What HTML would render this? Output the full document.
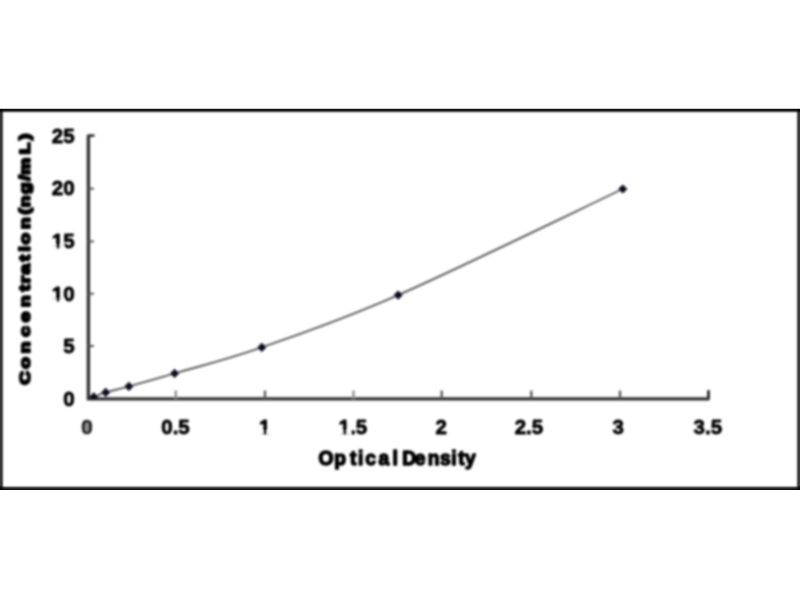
<!DOCTYPE html>
<html><head><meta charset="utf-8"><style>
html,body{margin:0;padding:0;background:#fff;width:800px;height:600px;overflow:hidden}
svg{display:block}
</style></head><body>
<svg width="800" height="600" viewBox="0 0 800 600">
<defs>
<clipPath id="pm"><rect x="87.5" y="120" width="640" height="279.3"/></clipPath>
<clipPath id="pa"><rect x="88.4" y="120" width="640" height="278.2"/></clipPath>
<filter id="b1" x="-1%" y="-5%" width="102%" height="110%"><feGaussianBlur stdDeviation="0.5"/></filter>
<filter id="b2" x="-5%" y="-5%" width="110%" height="110%"><feGaussianBlur stdDeviation="0.82"/></filter>
</defs>
<g style="isolation:isolate">
<rect x="0" y="108" width="800" height="1" fill="#c8c8c8" style="mix-blend-mode:multiply"/>
<rect x="0" y="109" width="800" height="1" fill="#0f0f0f" style="mix-blend-mode:multiply"/>
<rect x="0" y="110" width="800" height="1" fill="#1e1e1e" style="mix-blend-mode:multiply"/>
<rect x="0" y="111" width="800" height="1" fill="#646464" style="mix-blend-mode:multiply"/>
<rect x="0" y="112" width="800" height="1" fill="#bebebe" style="mix-blend-mode:multiply"/>
<rect x="0" y="113" width="800" height="1" fill="#f5f5f5" style="mix-blend-mode:multiply"/>
<rect x="0" y="485" width="800" height="1" fill="#f0f0f0" style="mix-blend-mode:multiply"/>
<rect x="0" y="486" width="800" height="1" fill="#aaaaaa" style="mix-blend-mode:multiply"/>
<rect x="0" y="487" width="800" height="1" fill="#505050" style="mix-blend-mode:multiply"/>
<rect x="0" y="488" width="800" height="1" fill="#282828" style="mix-blend-mode:multiply"/>
<rect x="0" y="489" width="800" height="1" fill="#0f0f0f" style="mix-blend-mode:multiply"/>
<rect x="0" y="109" width="1" height="381" fill="#373737" style="mix-blend-mode:multiply"/>
<rect x="1" y="109" width="1" height="381" fill="#3c3c3c" style="mix-blend-mode:multiply"/>
<rect x="2" y="109" width="1" height="381" fill="#787878" style="mix-blend-mode:multiply"/>
<rect x="3" y="109" width="1" height="381" fill="#c8c8c8" style="mix-blend-mode:multiply"/>
<rect x="4" y="109" width="1" height="381" fill="#f5f5f5" style="mix-blend-mode:multiply"/>
<rect x="795" y="109" width="1" height="381" fill="#f5f5f5" style="mix-blend-mode:multiply"/>
<rect x="796" y="109" width="1" height="381" fill="#c8c8c8" style="mix-blend-mode:multiply"/>
<rect x="797" y="109" width="1" height="381" fill="#787878" style="mix-blend-mode:multiply"/>
<rect x="798" y="109" width="1" height="381" fill="#3c3c3c" style="mix-blend-mode:multiply"/>
<rect x="799" y="109" width="1" height="381" fill="#3a3a3a" style="mix-blend-mode:multiply"/>
</g>
<g filter="url(#b2)">
<g clip-path="url(#pa)">
<path d="M93.8,396.9 C95.78,396.16 99.85,394.20 105.7,392.45 C111.55,390.70 117.42,389.57 128.9,386.4 C140.38,383.22 152.45,379.90 174.6,373.4 C196.75,366.90 224.53,360.45 261.8,347.4 C299.07,334.35 338.03,321.50 398.2,295.1 C458.37,268.70 585.37,206.68 622.8,189" fill="none" stroke="#5c5c5c" stroke-width="1.9"/>
</g>
<path d="M88.4,135.2 V398.85 H708.8" fill="none" stroke="#333" stroke-width="3.4"/>
<path d="M88.4,135.6 H93.4" stroke="#333" stroke-width="2.6" stroke-linecap="round"/>
<path d="M708.5,398.85 V391.35" stroke="#333" stroke-width="3" stroke-linecap="round"/>
<g clip-path="url(#pm)">
<path d="M93.8,392.3 L98.4,396.9 L93.8,401.5 L89.2,396.9 Z" fill="#0b0b22"/>
<path d="M105.7,387.8 L110.3,392.4 L105.7,397.1 L101.1,392.4 Z" fill="#0b0b22"/>
<path d="M128.9,381.8 L133.5,386.4 L128.9,391.0 L124.3,386.4 Z" fill="#0b0b22"/>
<path d="M174.6,368.8 L179.2,373.4 L174.6,378.0 L170.0,373.4 Z" fill="#0b0b22"/>
<path d="M261.8,342.8 L266.4,347.4 L261.8,352.0 L257.2,347.4 Z" fill="#0b0b22"/>
<path d="M398.2,290.5 L402.8,295.1 L398.2,299.7 L393.6,295.1 Z" fill="#0b0b22"/>
<path d="M622.8,184.4 L627.4,189.0 L622.8,193.6 L618.2,189.0 Z" fill="#0b0b22"/>
</g>
<line x1="88.4" y1="346" x2="93.9" y2="346" stroke="#555" stroke-width="2"/>
<line x1="88.4" y1="293.7" x2="93.9" y2="293.7" stroke="#555" stroke-width="2"/>
<line x1="88.4" y1="241.4" x2="93.9" y2="241.4" stroke="#555" stroke-width="2"/>
<line x1="88.4" y1="188.7" x2="93.9" y2="188.7" stroke="#555" stroke-width="2"/>
<line x1="175.8" y1="398.85" x2="175.8" y2="390.55" stroke="#8a8a8a" stroke-width="2.3"/>
<line x1="265" y1="398.85" x2="265" y2="390.55" stroke="#555" stroke-width="2.3"/>
<line x1="353.5" y1="398.85" x2="353.5" y2="390.55" stroke="#8a8a8a" stroke-width="2.3"/>
<line x1="441.7" y1="398.85" x2="441.7" y2="390.55" stroke="#555" stroke-width="2.3"/>
<line x1="531.3" y1="398.85" x2="531.3" y2="390.55" stroke="#555" stroke-width="2.3"/>
<line x1="620" y1="398.85" x2="620" y2="390.55" stroke="#555" stroke-width="2.3"/>
<text x="74.6" y="406.05" text-anchor="end" font-size="20.5" font-family="Liberation Sans, Arial, sans-serif" font-weight="bold" stroke="#000" stroke-width="0.8" stroke-linejoin="round">0</text>
<text x="74.6" y="353.30" text-anchor="end" font-size="20.5" font-family="Liberation Sans, Arial, sans-serif" font-weight="bold" stroke="#000" stroke-width="0.8" stroke-linejoin="round">5</text>
<text x="74.6" y="301.45" text-anchor="end" font-size="20.5" font-family="Liberation Sans, Arial, sans-serif" font-weight="bold" stroke="#000" stroke-width="0.8" stroke-linejoin="round">10</text>
<text x="74.6" y="247.95" text-anchor="end" font-size="20.5" font-family="Liberation Sans, Arial, sans-serif" font-weight="bold" stroke="#000" stroke-width="0.8" stroke-linejoin="round">15</text>
<text x="74.6" y="195.15" text-anchor="end" font-size="20.5" font-family="Liberation Sans, Arial, sans-serif" font-weight="bold" stroke="#000" stroke-width="0.8" stroke-linejoin="round">20</text>
<text x="74.6" y="142.65" text-anchor="end" font-size="20.5" font-family="Liberation Sans, Arial, sans-serif" font-weight="bold" stroke="#000" stroke-width="0.8" stroke-linejoin="round">25</text>
<ellipse cx="87.2" cy="426.4" rx="2.3" ry="4.7" fill="#9a9a9a"/>
<text x="87.0" y="433.65" text-anchor="middle" font-size="20.5" font-family="Liberation Sans, Arial, sans-serif" font-weight="bold" fill="#1e1e1e" stroke="#1e1e1e" stroke-width="0.7">0</text>
<text x="175.5" y="433.65" text-anchor="middle" font-size="20.5" font-family="Liberation Sans, Arial, sans-serif" font-weight="bold" fill="#000" stroke="#000" stroke-width="0.8" stroke-linejoin="round">0.5</text>
<text x="264.6" y="433.65" text-anchor="middle" font-size="20.5" font-family="Liberation Sans, Arial, sans-serif" font-weight="bold" fill="#000" stroke="#000" stroke-width="0.8" stroke-linejoin="round">1</text>
<text x="352.8" y="433.65" text-anchor="middle" font-size="20.5" font-family="Liberation Sans, Arial, sans-serif" font-weight="bold" fill="#000" stroke="#000" stroke-width="0.8" stroke-linejoin="round">1.5</text>
<text x="441.1" y="433.65" text-anchor="middle" font-size="20.5" font-family="Liberation Sans, Arial, sans-serif" font-weight="bold" fill="#000" stroke="#000" stroke-width="0.8" stroke-linejoin="round">2</text>
<text x="528.9" y="433.65" text-anchor="middle" font-size="20.5" font-family="Liberation Sans, Arial, sans-serif" font-weight="bold" fill="#000" stroke="#000" stroke-width="0.8" stroke-linejoin="round">2.5</text>
<text x="618.1" y="433.65" text-anchor="middle" font-size="20.5" font-family="Liberation Sans, Arial, sans-serif" font-weight="bold" fill="#000" stroke="#000" stroke-width="0.8" stroke-linejoin="round">3</text>
<text x="707.8" y="433.65" text-anchor="middle" font-size="20.5" font-family="Liberation Sans, Arial, sans-serif" font-weight="bold" fill="#000" stroke="#000" stroke-width="0.8" stroke-linejoin="round">3.5</text>
<rect x="52.20" y="298.81" width="3.93" height="3.69" fill="#fff"/>
<rect x="59.85" y="298.81" width="3.68" height="3.69" fill="#fff"/>
<rect x="52.20" y="245.31" width="3.93" height="3.69" fill="#fff"/>
<rect x="59.85" y="245.31" width="3.68" height="3.69" fill="#fff"/>
<rect x="259.30" y="431.01" width="3.93" height="3.69" fill="#fff"/>
<rect x="266.95" y="431.01" width="3.68" height="3.69" fill="#fff"/>
<rect x="338.90" y="431.01" width="3.93" height="3.69" fill="#fff"/>
<rect x="346.55" y="431.01" width="3.68" height="3.69" fill="#fff"/>
<text transform="translate(0,464.6) scale(0.95,1)" x="335.27 351.97 368.41 376.93 384.52 398.31 413.19 419.50 423.36 436.62 450.39 463.10 475.08 482.41 489.59" y="0" font-size="20.3" font-family="Liberation Sans, Arial, sans-serif" font-weight="bold" stroke="#000" stroke-width="1.5" stroke-linejoin="round">Optical Density</text>
<text transform="translate(29.8,0) rotate(-90) scale(1.31,1)" x="-293.66 -281.45 -269.72 -257.12 -245.94 -234.30 -222.38 -216.32 -209.63 -199.36 -192.01 -186.72 -174.91 -163.84 -158.27 -148.21 -137.89 -133.34 -117.86 -106.91" y="0" font-size="14.5" font-family="Liberation Sans, Arial, sans-serif" font-weight="bold" stroke="#000" stroke-width="2.0" stroke-linejoin="round">Concentration(ng/mL)</text>
</g>
</svg>
</body></html>
